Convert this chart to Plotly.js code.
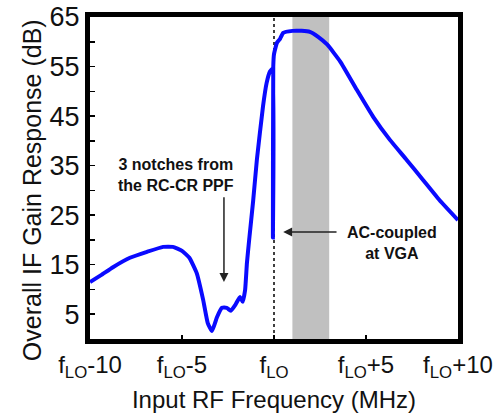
<!DOCTYPE html>
<html>
<head>
<meta charset="utf-8">
<script src="https://cdn.plot.ly/plotly-3.0.1.min.js"></script>
<style>html,body{margin:0;padding:0;background:#fff;}#chart{width:496px;height:420px;}</style>
</head>
<body>
<div id="chart"></div>
<script>
// Frequency offset from f_LO (MHz)
var freqMHz = [-10, -9.4, -8.75, -7.83, -6.9, -6.03, -5.5, -5.0, -4.6, -4.2, -3.85, -3.6, -3.37, -3.1, -2.83, -2.57, -2.35, -2.1, -1.85, -1.7, -1.57, -1.47, -1.35, -1.13, -0.93, -0.6, -0.4, -0.22, -0.07, -0.06, -0.04, 0.0, 0.16, 0.33, 0.5, 1.0, 1.5, 1.95, 2.4, 2.9, 3.6, 4.5, 5.4, 6.3, 7.2, 8.1, 9.0, 10];
// Overall IF gain response (dB)
var gainDB = [11.5, 12.9, 14.5, 16.4, 17.6, 18.6, 18.6, 17.8, 16.4, 13.3, 7.9, 3.2, 1.6, 4.4, 6.3, 6.3, 5.7, 6.9, 8.5, 7.5, 9.9, 15.4, 20, 28, 36.2, 46.9, 51.7, 54, 54.6, 20.5, 55, 57.5, 59.8, 60.6, 61.8, 62.2, 62.2, 62, 61, 59.4, 56, 50.3, 44.8, 40.2, 36.2, 32.1, 28, 24];
// Tick labels
var xTickVals = [-10, -5, 0, 5, 10];
var xTickText = ['f<sub>LO</sub>-10', 'f<sub>LO</sub>-5', 'f<sub>LO</sub>', 'f<sub>LO</sub>+5', 'f<sub>LO</sub>+10'];
var yTickVals = [5, 15, 25, 35, 45, 55, 65];
// Shaded band (MHz) and marker line
var bandMHz = [1, 3];
var loMHz = 0;

var FONT = '"Liberation Sans Narrow", "Arial Narrow", "Liberation Sans", Arial, sans-serif';

var trace = {
  x: freqMHz, y: gainDB, type: 'scatter', mode: 'lines',
  line: {color: '#0a0aff', width: 4, shape: 'spline', smoothing: 0.4},
  hoverinfo: 'skip'
};

var layout = {
  width: 496, height: 420,
  margin: {l: 90, r: 38, t: 17, b: 81},
  paper_bgcolor: '#fff', plot_bgcolor: '#fff',
  showlegend: false,
  font: {family: FONT, color: '#111'},
  xaxis: {
    range: [-10, 10], tickmode: 'array', tickvals: xTickVals, ticktext: xTickText,
    ticks: 'inside', ticklen: 4, tickwidth: 1.5, tickcolor: '#000',
    showline: true, linecolor: '#000', linewidth: 5, mirror: true,
    showgrid: false, zeroline: false,
    tickfont: {size: 24, family: FONT},
    title: {text: 'Input RF Frequency (MHz)', font: {size: 24, family: FONT}, standoff: 12}
  },
  yaxis: {
    range: [0, 65], tickmode: 'array', tickvals: yTickVals,
    ticks: 'inside', ticklen: 5, tickwidth: 1.5, tickcolor: '#000',
    minor: {dtick: 10, tick0: 0, ticks: 'inside', ticklen: 5, tickwidth: 1.5, tickcolor: '#000'},
    showline: true, linecolor: '#000', linewidth: 5, mirror: true,
    showgrid: false, zeroline: false,
    tickfont: {size: 27, family: FONT}
  },
  shapes: [
    {type: 'rect', xref: 'x', yref: 'y', x0: bandMHz[0], x1: bandMHz[1], y0: 0, y1: 65,
     fillcolor: '#c0c0c0', line: {width: 0}, layer: 'below'},
    {type: 'line', xref: 'x', yref: 'y', x0: loMHz, x1: loMHz, y0: 0, y1: 65,
     line: {color: '#000', width: 1.5, dash: 'dot'}, layer: 'below'}
  ],
  annotations: [
    {xref: 'paper', yref: 'paper', x: -0.157, y: 0.463, xanchor: 'center', yanchor: 'middle',
     textangle: -90, text: 'Overall IF Gain Response (dB)', showarrow: false,
     font: {size: 25, family: FONT, color: '#111'}},
    {xref: 'x', yref: 'y', x: -5.3, y: 33.1, text: '<b>3 notches from<br>the RC-CR PPF</b>',
     showarrow: false, font: {size: 16, family: FONT, color: '#111'}, align: 'center'},
    {xref: 'x', yref: 'y', x: -2.72, y: 11.5, ax: -2.72, ay: 28.9, axref: 'x', ayref: 'y',
     text: '', showarrow: true, arrowhead: 2, arrowsize: 1.2, arrowwidth: 1.5, arrowcolor: '#222'},
    {xref: 'x', yref: 'y', x: 6.4, y: 19.4, text: '<b>AC-coupled<br>at VGA</b>',
     showarrow: false, font: {size: 16, family: FONT, color: '#111'}, align: 'center'},
    {xref: 'x', yref: 'y', x: 0.5, y: 21.6, ax: 3.48, ay: 21.6, axref: 'x', ayref: 'y',
     text: '', showarrow: true, arrowhead: 2, arrowsize: 1.2, arrowwidth: 1.5, arrowcolor: '#222'}
  ]
};

Plotly.newPlot('chart', [trace], layout, {displayModeBar: false, staticPlot: true});
</script>
</body>
</html>
